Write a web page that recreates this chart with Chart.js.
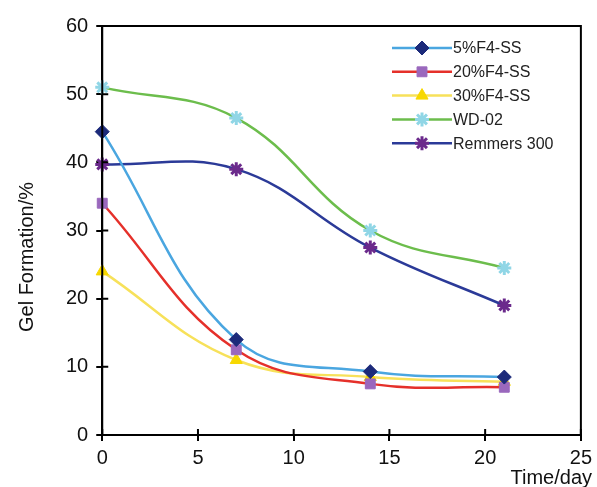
<!DOCTYPE html>
<html>
<head>
<meta charset="utf-8">
<script src="https://cdn.jsdelivr.net/npm/chart.js@4"></script>
<style>
  html, body { margin: 0; padding: 0; background: #fff; }
  #wrap { width: 597px; height: 487px; }
</style>
</head>
<body>
<div id="wrap"><canvas id="gel-chart"></canvas></div>
<script>
const days = [0, 7, 14, 21];
const seriesNames = ['5%F4-SS', '20%F4-SS', '30%F4-SS', 'WD-02', 'Remmers 300'];
const f4ss5 = [44.5, 14, 9.3, 8.5];
const f4ss20 = [34, 12.5, 7.5, 7];
const f4ss30 = [24, 11, 8.5, 7.8];
const wd02 = [51, 46.5, 30, 24.5];
const remmers300 = [39.7, 39, 27.5, 19];
const xTicks = [0, 5, 10, 15, 20, 25];
const yTicks = [0, 10, 20, 30, 40, 50, 60];

const lineColors = ['#4aa6e0', '#e5302a', '#f7e15a', '#6cbd4c', '#2b3a98'];
const markerColors = ['#1c2a7a', '#9a68bd', '#f7d800', '#90d6e6', '#6b2a8c'];
const markerStyles = ['rectRot', 'rect', 'triangle', 'star', 'star'];

const allValues = [f4ss5, f4ss20, f4ss30, wd02, remmers300];
const FONT = '"Liberation Sans", Arial, sans-serif';

function toPoints(vals) {
  return days.map((d, i) => ({ x: d, y: vals[i] }));
}

const datasets = allValues.map((vals, i) => ({
  label: seriesNames[i],
  data: toPoints(vals),
  borderColor: lineColors[i],
  borderWidth: 2.5,
  tension: 0.4,
  clip: false,
  pointStyle: markerStyles[i],
  pointRadius: 7,
  pointBackgroundColor: markerColors[i],
  pointBorderColor: markerColors[i],
  pointBorderWidth: i >= 3 ? 3 : 1
}));

// frame, inner tick halves, axis titles and the in-plot legend
const framePlugin = {
  id: 'frame',
  afterDraw(chart) {
    const ctx = chart.ctx;
    const a = chart.chartArea;
    const xs = chart.scales.x, ys = chart.scales.y;
    ctx.save();
    ctx.strokeStyle = '#000';
    ctx.lineWidth = 2;
    ctx.strokeRect(a.left, a.top, a.right - a.left, a.bottom - a.top);
    ctx.beginPath();
    xTicks.forEach(t => {
      const px = xs.getPixelForValue(t);
      ctx.moveTo(px, a.bottom);
      ctx.lineTo(px, a.bottom - 6);
    });
    yTicks.forEach(t => {
      const py = ys.getPixelForValue(t);
      ctx.moveTo(a.left, py);
      ctx.lineTo(a.left + 6, py);
    });
    ctx.stroke();

    // axis titles
    ctx.fillStyle = '#111';
    ctx.font = '20px ' + FONT;
    ctx.textAlign = 'right';
    ctx.textBaseline = 'alphabetic';
    ctx.fillText('Time/day', 592, 484);
    ctx.save();
    ctx.translate(33, 257);
    ctx.rotate(-Math.PI / 2);
    ctx.textAlign = 'center';
    ctx.fillText('Gel Formation/%', 0, 0);
    ctx.restore();

    // legend
    const lx = 392, rowY = 48, gap = 23.8;
    chart.data.datasets.forEach((ds, i) => {
      const y = rowY + i * gap;
      ctx.strokeStyle = ds.borderColor;
      ctx.lineWidth = 2.5;
      ctx.beginPath();
      ctx.moveTo(lx, y);
      ctx.lineTo(lx + 60, y);
      ctx.stroke();
      ctx.fillStyle = ds.pointBackgroundColor;
      ctx.strokeStyle = ds.pointBorderColor;
      ctx.lineWidth = ds.pointBorderWidth;
      Chart.helpers.drawPoint(ctx, {
        pointStyle: ds.pointStyle,
        radius: ds.pointRadius,
        rotation: 0,
        borderWidth: ds.pointBorderWidth
      }, lx + 30, y);
      ctx.fillStyle = '#222';
      ctx.font = '16px ' + FONT;
      ctx.textBaseline = 'middle';
      ctx.textAlign = 'left';
      ctx.fillText(ds.label, lx + 61, y + 1);
    });
    ctx.restore();
  }
};

const tickFont = { family: FONT, size: 20 };

new Chart(document.getElementById('gel-chart'), {
  type: 'line',
  data: { datasets: datasets },
  options: {
    responsive: true,
    maintainAspectRatio: false,
    animation: false,
    layout: { padding: { top: 26, right: 14, left: 58, bottom: 12 } },
    plugins: {
      legend: { display: false },
      tooltip: { enabled: false }
    },
    scales: {
      x: {
        type: 'linear',
        min: 0,
        max: 25,
        afterBuildTicks: s => { s.ticks = xTicks.map(v => ({ value: v })); },
        ticks: { color: '#111', font: tickFont, padding: 5, maxRotation: 0 },
        grid: { drawOnChartArea: false, tickLength: 6, color: '#000', lineWidth: 2 },
        border: { color: '#000', width: 2 }
      },
      y: {
        min: 0,
        max: 60,
        afterBuildTicks: s => { s.ticks = yTicks.map(v => ({ value: v })); },
        ticks: { color: '#111', font: tickFont, padding: 8 },
        grid: { drawOnChartArea: false, tickLength: 6, color: '#000', lineWidth: 2 },
        border: { color: '#000', width: 2 }
      }
    }
  },
  plugins: [framePlugin]
});
</script>
</body>
</html>
